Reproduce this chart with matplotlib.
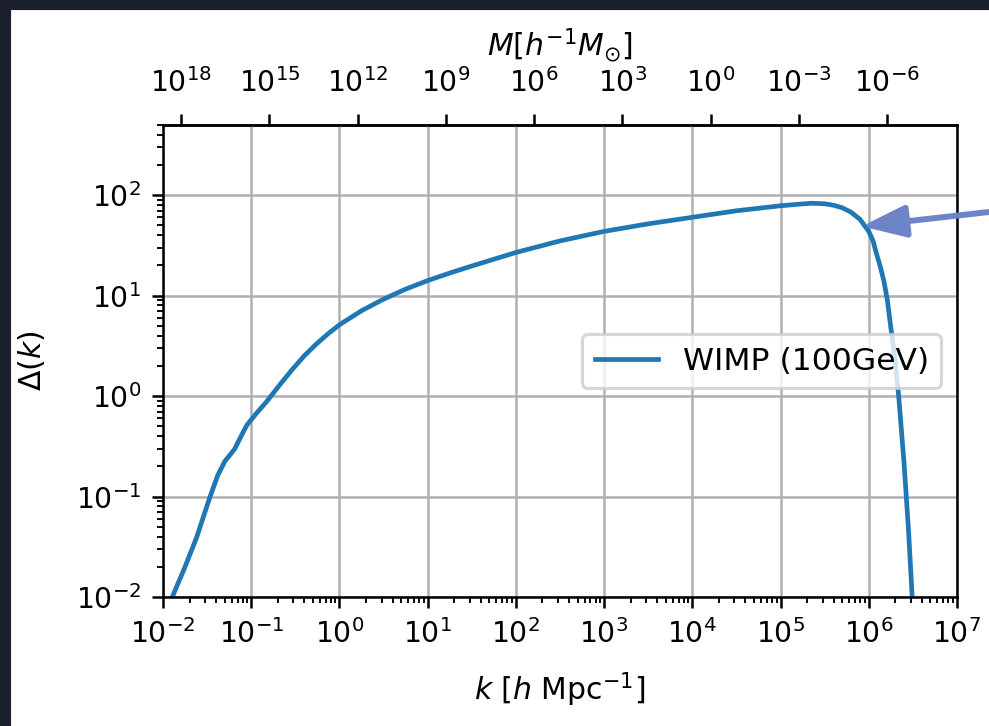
"""Dimensionless power spectrum of a 100 GeV WIMP, with the matching halo mass on top."""

import numpy as np
import matplotlib
matplotlib.use("Agg")
import matplotlib.pyplot as plt  # noqa: E402
from matplotlib.patches import Rectangle  # noqa: E402
from matplotlib.ticker import FixedLocator, LogLocator, NullFormatter, NullLocator  # noqa: E402

# log10 k [h/Mpc] and log10 Delta(k)
LOG_K = [-1.895, -1.755, -1.62, -1.47, -1.38, -1.30, -1.19, -1.11, -1.05, -0.94,
         -0.83, -0.75, -0.66, -0.53, -0.40, -0.26, -0.13, 0.00, 0.25, 0.50,
         0.75, 1.00, 1.25, 1.50, 2.00, 2.50, 3.00, 3.50, 4.00, 4.50, 5.00,
         5.20, 5.35, 5.50, 5.60, 5.70, 5.80, 5.90, 6.00, 6.05, 6.09,
         6.13, 6.17, 6.21, 6.24, 6.27, 6.30, 6.34, 6.40, 6.45, 6.495]
LOG_DELTA = [-2.00, -1.71, -1.41, -1.01, -0.79, -0.65, -0.53, -0.39, -0.29, -0.17,
             -0.06, 0.03, 0.13, 0.27, 0.40, 0.52, 0.62, 0.71, 0.85, 0.965,
             1.065, 1.15, 1.225, 1.295, 1.43, 1.545, 1.64, 1.715, 1.78, 1.845, 1.895,
             1.91, 1.92, 1.915, 1.90, 1.875, 1.83, 1.76, 1.64, 1.54, 1.41,
             1.29, 1.15, 0.96, 0.75, 0.55, 0.34, -0.01, -0.67, -1.33, -2.05]
LABEL = "WIMP (100GeV)"
LOG_MNORM = 12.62                          # M = 10**LOG_MNORM * k**-3  [h^-1 Msun]
M_TICKS = 10.0 ** np.arange(18, -7, -3)   # labelled masses on the top axis
ARROW_TIP = (8.3e5, 49.0)                  # point on the cut-off the arrow marks

DPI = 226
BG_DARK = "#1b212c"
ARROW_COL = "#6d84c8"


def k2m(k):
    k = np.asarray(k, dtype=float)
    return 10 ** LOG_MNORM / np.clip(k, 1e-300, None) ** 3


def m2k(m):
    m = np.asarray(m, dtype=float)
    return (10 ** LOG_MNORM / np.clip(m, 1e-300, None)) ** (1.0 / 3.0)


def main():
    k = 10 ** np.array(LOG_K)
    delta = 10 ** np.array(LOG_DELTA)

    fig = plt.figure(figsize=(989 / DPI, 726 / DPI), dpi=DPI)
    ax = fig.add_axes([163 / 989, 1 - 597 / 726, (957 - 163) / 989, (597 - 125) / 726])
    ax.plot(k, delta, color="#1f77b4", lw=1.5, label=LABEL)
    ax.set_xscale("log"); ax.set_yscale("log")
    ax.set_xlim(1e-2, 1e7); ax.set_ylim(1e-2, 5e2)
    ax.xaxis.set_major_locator(LogLocator(base=10.0, numticks=20))
    ax.xaxis.set_minor_locator(LogLocator(base=10.0, subs=np.arange(2, 10), numticks=100))
    ax.yaxis.set_minor_locator(LogLocator(base=10.0, subs=np.arange(2, 10), numticks=100))
    ax.xaxis.set_minor_formatter(NullFormatter()); ax.yaxis.set_minor_formatter(NullFormatter())
    ax.tick_params(labelsize=9)
    ax.grid(True, which="major", color="#b0b0b0", lw=0.8)
    ax.set_xlabel(r"$k$ [$h$ Mpc$^{-1}$]", fontsize=9.5, labelpad=7)
    ax.set_ylabel(r"$\Delta(k)$", fontsize=9.5, labelpad=9)
    ax.legend(loc="center right", fontsize=10)

    sec = ax.secondary_xaxis("top", functions=(k2m, m2k))
    sec.xaxis.set_major_locator(FixedLocator(M_TICKS))
    sec.xaxis.set_minor_locator(NullLocator())
    sec.xaxis.set_minor_formatter(NullFormatter())
    sec.tick_params(labelsize=9, pad=5)
    sec.set_xlabel(r"$M[h^{-1}M_{\odot}]$", fontsize=9.5, labelpad=4)

    ax.annotate("", xy=ARROW_TIP, xycoords="data",
                xytext=(1.0, 1 - 212 / 726), textcoords="figure fraction",
                annotation_clip=False,
                arrowprops=dict(arrowstyle="-|>,head_length=1.18,head_width=0.43",
                                mutation_scale=10, color=ARROW_COL, lw=1.9,
                                shrinkA=0, shrinkB=0))

    # dark screenshot frame on the left and top edges
    fig.patches.append(Rectangle((0, 0), 9 / 989, 1, transform=fig.transFigure,
                                 color=BG_DARK, zorder=10))
    fig.patches.append(Rectangle((0, 1 - 8 / 726), 1, 8 / 726, transform=fig.transFigure,
                                 color=BG_DARK, zorder=10))

    fig.savefig("out.png", dpi=DPI)
    plt.close(fig)


if __name__ == "__main__":
    main()
